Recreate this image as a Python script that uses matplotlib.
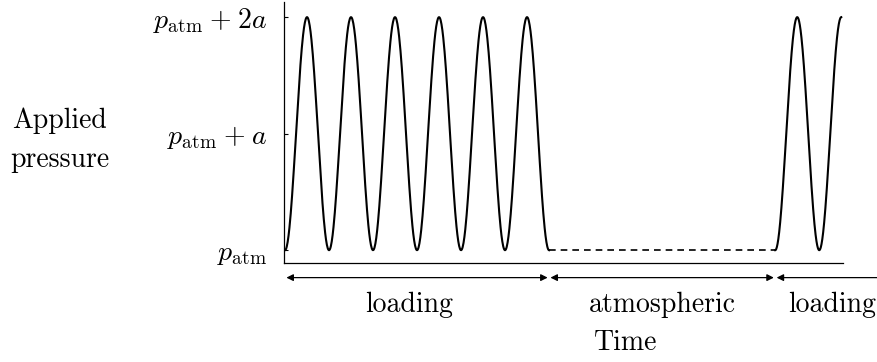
import matplotlib
matplotlib.use("Agg")
import matplotlib.pyplot as plt
import numpy as np
from matplotlib.transforms import blended_transform_factory

plt.rcParams.update({
    "font.family": "serif",
    "font.serif": ["cmr10"],
    "mathtext.fontset": "cm",
    "axes.formatter.use_mathtext": True,
})

# phases of the applied pressure, durations in loading periods
PHASES = ["loading", "atmospheric", "loading"]
PHASE_DURATION = [6.0, 5.14, 1.5]
PHASE_LOADED = [True, False, True]
# arrow extent of the last phase runs off the right edge
ARROW_DURATION = [6.0, 5.14, 2.6]

P_ATM = 0.0
AMP = 1.0
Y_TICKS = [0.0, 1.0, 2.0]
Y_TICK_LABELS = [r"$p_\mathrm{atm}$",
                 r"$p_\mathrm{atm}\hspace{0.06}+\hspace{0.06}a$",
                 r"$p_\mathrm{atm}\hspace{0.06}+\hspace{0.06}2a$"]

FS = 20
LABEL_SHIFT = [-0.17, 0.0, 0.0]  # nudge of phase labels, in periods

fig = plt.figure(figsize=(8.78, 3.62), dpi=100)
ax = fig.add_axes([284 / 878, 99 / 362, (843 - 284) / 878, 261 / 362])

t0 = 0.0
for dur, loaded in zip(PHASE_DURATION, PHASE_LOADED):
    t = np.linspace(0, dur, 600)
    if loaded:
        p = P_ATM + AMP * (1 - np.cos(2 * np.pi * t))
        ax.plot(t0 + t, p, "-", color="black", lw=1.5)
    else:
        ax.plot(t0 + t, np.full_like(t, P_ATM), color="black", lw=1.2,
                dashes=(4, 3))
    t0 += dur

ax.set_xlim(-0.023, 12.68)
ax.set_ylim(-0.11, 2.13)
ax.spines["top"].set_visible(False)
ax.spines["right"].set_visible(False)
ax.spines["left"].set_linewidth(0.9)
ax.spines["bottom"].set_linewidth(0.9)
ax.set_xticks([])
ax.set_yticks(Y_TICKS)
ax.set_yticklabels(Y_TICK_LABELS, fontsize=FS)
ax.tick_params(axis="y", direction="in", length=3, width=0.8, pad=12)

trans = blended_transform_factory(ax.transData, ax.transAxes)
t0 = 0.0
for name, dur, shift in zip(PHASES, ARROW_DURATION, LABEL_SHIFT):
    ax.annotate("", xy=(t0, -0.056), xytext=(t0 + dur, -0.056),
                xycoords=trans, textcoords=trans, annotation_clip=False,
                arrowprops=dict(arrowstyle="<|-|>", color="black", lw=0.9,
                                mutation_scale=10, shrinkA=1, shrinkB=1))
    ax.text(t0 + dur / 2 + shift, -0.16, name, transform=trans, ha="center",
            va="center", fontsize=FS)
    t0 += dur

fig.text(626 / 878, 1 - 343 / 362, "Time", ha="center", va="center", fontsize=FS)
fig.text(60 / 878, 1 - 140 / 362, "Applied\npressure", ha="center", va="center",
         fontsize=FS, linespacing=1.6)

fig.savefig("out.png", dpi=100)
